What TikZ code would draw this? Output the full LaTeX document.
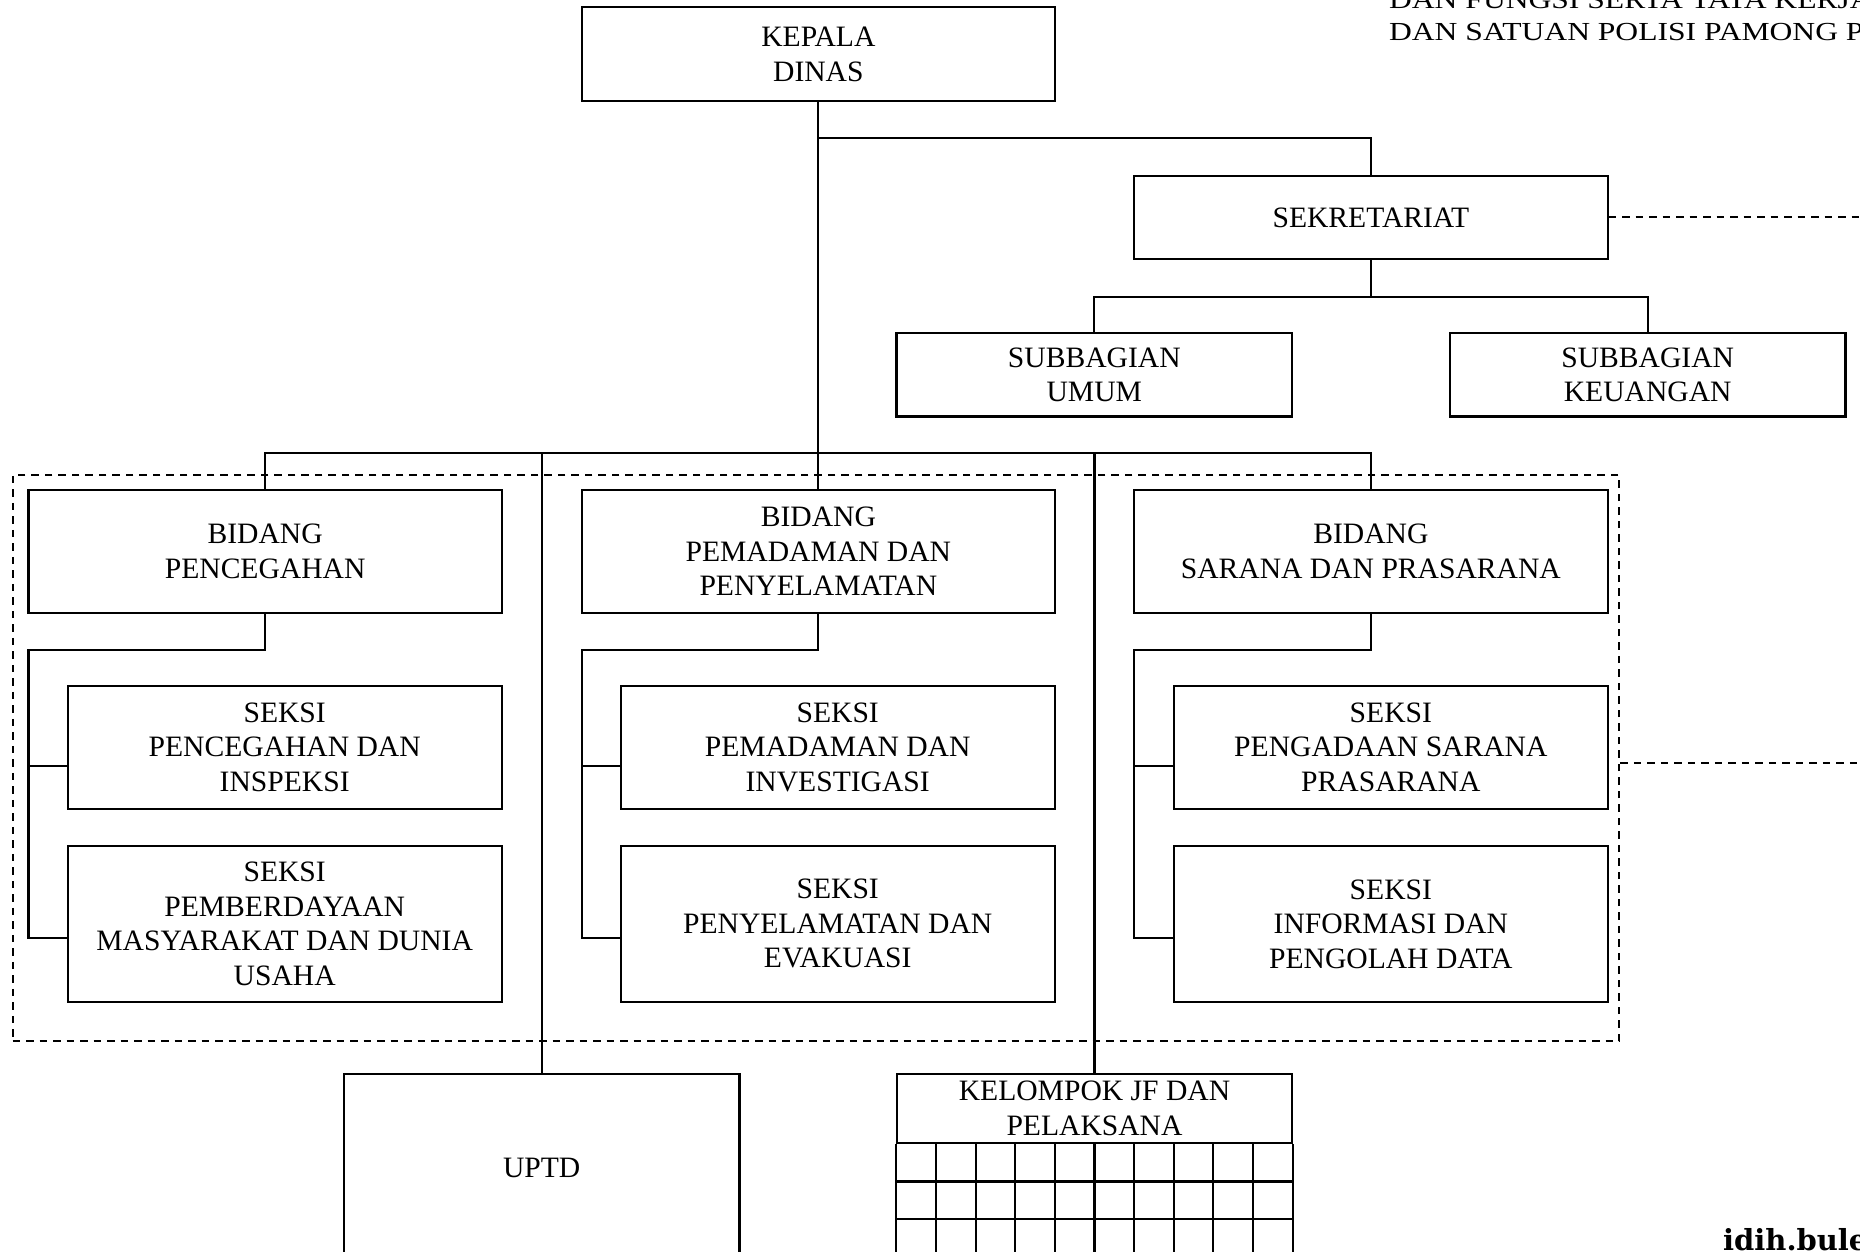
\documentclass[tikz,border=0pt]{standalone}
\usepackage{fontspec}
\setmainfont{Liberation Serif}
\newfontfamily\hdrfont[FakeStretch=1.215]{Liberation Serif}
\newfontfamily\sitefont{DejaVu Serif}
\begin{document}
\begin{tikzpicture}[x=1pt,y=-1pt,
  line width=2.2pt, line join=miter,
  unit/.style={draw, rectangle, inner sep=0pt, align=center,
    font=\fontsize{29.6pt}{34.5pt}\selectfont},
  widebox/.style={unit, minimum width=473.5pt},
  midbox/.style={unit, minimum width=395.5pt},
  seksibox/.style={unit, minimum width=434pt},
  groupline/.style={line width=2pt, dash pattern=on 7.5pt off 6pt},
  plain/.style={anchor=base west, inner sep=0pt}
]
\useasboundingbox (0,0) rectangle (1860,1252);
\clip (0,0) rectangle (1860,1252);

% running header text at the top right
\node[plain, font=\hdrfont\fontsize{26pt}{32pt}\selectfont] (hdrA) at (1388,8.3) {DAN FUNGSI SERTA TATA KERJA};
\node[plain, font=\hdrfont\fontsize{26pt}{32pt}\selectfont] (hdrB) at (1388,40.7) {DAN SATUAN POLISI PAMONG PRAJA};

% dashed frame around the three fields
\node[draw, groupline, minimum width=1606.6pt, minimum height=566pt, inner sep=0pt] (group) at (816,758) {};

% head and secretariat
\node[widebox, minimum height=93.7pt] (kepala) at (818.35,54.15) {KEPALA\\DINAS};
\node[widebox, minimum height=83.3pt] (sekretariat) at (1370.85,217.35) {SEKRETARIAT};
\node[midbox, minimum height=83.1pt] (umum) at (1094.3,374.85) {SUBBAGIAN\\UMUM};
\node[midbox, minimum height=83.1pt] (keuangan) at (1647.7,374.85) {SUBBAGIAN\\KEUANGAN};

% fields
\node[widebox, minimum height=123pt] (bPencegahan) at (265.15,551.5) {BIDANG\\PENCEGAHAN};
\node[widebox, minimum height=123pt] (bPemadaman) at (818.35,551.5) {BIDANG\\PEMADAMAN DAN\\PENYELAMATAN};
\node[widebox, minimum height=123pt] (bSarana) at (1370.85,551.5) {BIDANG\\SARANA DAN PRASARANA};

% sections
\node[seksibox, minimum height=123.4pt] (sInspeksi) at (284.7,747.3) {SEKSI\\PENCEGAHAN DAN\\INSPEKSI};
\node[seksibox, minimum height=156.2pt] (sPemberdayaan) at (284.7,923.9) {SEKSI\\PEMBERDAYAAN\\MASYARAKAT DAN DUNIA\\USAHA};
\node[seksibox, minimum height=123.4pt] (sInvestigasi) at (837.7,747.3) {SEKSI\\PEMADAMAN DAN\\INVESTIGASI};
\node[seksibox, minimum height=156.2pt] (sEvakuasi) at (837.7,923.9) {SEKSI\\PENYELAMATAN DAN\\EVAKUASI};
\node[seksibox, minimum height=123.4pt] (sPengadaan) at (1390.85,747.3) {SEKSI\\PENGADAAN SARANA\\PRASARANA};
\node[seksibox, minimum height=156.2pt] (sInformasi) at (1390.85,923.9) {SEKSI\\INFORMASI DAN\\PENGOLAH DATA};

% technical unit and functional group
\node[midbox, minimum height=188pt] (uptd) at (541.65,1168) {UPTD};
\node[midbox, minimum height=69pt] (jf) at (1094.5,1108.5) {KELOMPOK JF DAN\\PELAKSANA};

% grid under the functional group header
\coordinate (jfBottom) at (1094.5,1262);
\draw (jf.south west) -- (jf.south west |- jfBottom);
\draw (jf.south east) -- (jf.south east |- jfBottom);
\foreach \r in {1181.5,1219} \draw (896.7,\r) -- (1292.3,\r);
\foreach \i in {1,...,9} \draw ({896.7+39.56*\i},1143) -- ({896.7+39.56*\i},1262);

% connectors from the head
\coordinate (kTee) at (818.35,138.3);
\coordinate (sTee) at (1370.85,296.6);
\coordinate (mainBus) at (818.35,453.1);
\draw (kepala.south) -- (bPemadaman.north);
\draw (kTee) -| (sekretariat.north);
\draw (sekretariat.south) -- (sTee);
\draw (umum.north) |- (sTee) -| (keuangan.north);
\draw (bPencegahan.north) |- (mainBus) -| (bSarana.north);
\draw (uptd.north) -- (uptd.north |- mainBus);
\draw (jf.north) -- (jf.north |- mainBus);

% field to section connectors
\coordinate (pcA) at (28.5,650);  \coordinate (pcB) at (28.5,766.3);  \coordinate (pcC) at (28.5,938.3);
\coordinate (pmA) at (581.6,650); \coordinate (pmB) at (581.6,766.3); \coordinate (pmC) at (581.6,938.3);
\coordinate (srA) at (1134,650);  \coordinate (srB) at (1134,766.3);  \coordinate (srC) at (1134,938.3);
\draw (bPencegahan.south) |- (pcA) -- (pcC) -- (pcC -| sPemberdayaan.west);
\draw (pcB) -- (pcB -| sInspeksi.west);
\draw (bPemadaman.south) |- (pmA) -- (pmC) -- (pmC -| sEvakuasi.west);
\draw (pmB) -- (pmB -| sInvestigasi.west);
\draw (bSarana.south) |- (srA) -- (srC) -- (srC -| sInformasi.west);
\draw (srB) -- (srB -| sPengadaan.west);

% dashed coordination lines to the right
\coordinate (sekEdge) at (1860,217.35);
\coordinate (grpEdge) at (1860,763);
\draw[groupline] (sekretariat.east) -- (sekEdge);
\draw[groupline] (group.east |- grpEdge) -- (grpEdge);

% footer site name
\node[plain, font=\sitefont\bfseries\fontsize{29pt}{34pt}\selectfont] (site) at (1722,1250) {idih.bulelengkab.go.id};
\end{tikzpicture}
\end{document}
